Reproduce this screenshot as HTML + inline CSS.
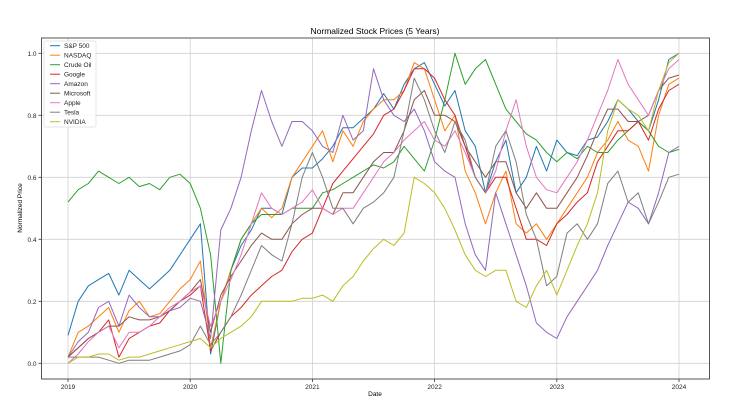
<!DOCTYPE html>
<html><head><meta charset="utf-8">
<style>
body{margin:0;background:#fff;}
svg{display:block;font-family:"Liberation Sans",sans-serif;}
</style></head>
<body>
<svg id="chart" width="743" height="409">
<text x="375" y="34" font-size="8.5" text-anchor="middle" fill="#000">Normalized Stock Prices (5 Years)</text>
<text x="375" y="396" font-size="6.5" text-anchor="middle">Date</text>
<text x="22" y="208" font-size="6.5" text-anchor="middle" transform="rotate(-90 22 208)">Normalized Price</text>
<g id="grid"></g><g id="series"></g><g id="axes"></g><g id="legend"></g>
</svg>
<script>
const seriesNames=["S&P 500","NASDAQ","Crude Oil","Google","Amazon","Microsoft","Apple","Tesla","NVIDIA"];
const colors=["#1f77b4","#ff7f0e","#2ca02c","#d62728","#9467bd","#8c564b","#e377c2","#7f7f7f","#bcbd22"];
const yTicks=[0.0,0.2,0.4,0.6,0.8,1.0];
const xTicks=[2019,2020,2021,2022,2023,2024];
const startYear=2019;
const spx=[0.09,0.2,0.25,0.27,0.29,0.22,0.3,0.27,0.24,0.27,0.3,0.35,0.4,0.45,0.03,0.2,0.3,0.38,0.43,0.5,0.5,0.48,0.6,0.63,0.63,0.66,0.7,0.76,0.76,0.79,0.82,0.87,0.82,0.9,0.95,0.97,0.9,0.83,0.88,0.75,0.7,0.55,0.65,0.72,0.55,0.6,0.7,0.62,0.72,0.68,0.67,0.72,0.73,0.78,0.85,0.82,0.78,0.75,0.85,0.98,1.0];
const ndx=[0.02,0.1,0.12,0.15,0.18,0.1,0.17,0.2,0.15,0.16,0.2,0.24,0.27,0.33,0.05,0.2,0.3,0.4,0.45,0.5,0.47,0.5,0.6,0.65,0.7,0.75,0.65,0.75,0.7,0.78,0.82,0.85,0.85,0.88,0.97,0.95,0.85,0.75,0.8,0.62,0.55,0.45,0.55,0.62,0.45,0.42,0.45,0.4,0.45,0.5,0.55,0.6,0.68,0.72,0.78,0.72,0.7,0.62,0.8,0.9,0.92];
const oil=[0.52,0.56,0.58,0.62,0.6,0.58,0.6,0.57,0.58,0.56,0.6,0.61,0.58,0.5,0.35,0.0,0.3,0.4,0.45,0.48,0.48,0.48,0.5,0.5,0.5,0.55,0.56,0.58,0.6,0.62,0.64,0.63,0.65,0.7,0.66,0.62,0.72,0.85,1.0,0.9,0.95,0.98,0.9,0.82,0.78,0.74,0.72,0.68,0.65,0.68,0.66,0.7,0.68,0.68,0.72,0.75,0.78,0.75,0.7,0.68,0.69];
const goog=[0.02,0.05,0.08,0.1,0.14,0.02,0.08,0.1,0.12,0.13,0.17,0.2,0.22,0.25,0.04,0.1,0.15,0.18,0.22,0.25,0.28,0.3,0.36,0.4,0.42,0.5,0.58,0.62,0.66,0.7,0.74,0.8,0.82,0.88,0.95,0.95,0.92,0.85,0.8,0.7,0.6,0.55,0.6,0.6,0.5,0.4,0.4,0.38,0.45,0.48,0.52,0.55,0.65,0.7,0.75,0.75,0.78,0.72,0.82,0.88,0.9];
const amzn=[0.02,0.07,0.1,0.18,0.2,0.12,0.22,0.18,0.15,0.15,0.17,0.18,0.21,0.2,0.08,0.43,0.5,0.6,0.75,0.88,0.78,0.7,0.78,0.78,0.75,0.7,0.68,0.8,0.72,0.75,0.95,0.85,0.8,0.78,0.82,0.75,0.65,0.62,0.6,0.45,0.35,0.3,0.55,0.45,0.35,0.25,0.13,0.1,0.08,0.15,0.2,0.25,0.3,0.38,0.45,0.52,0.5,0.45,0.55,0.68,0.7];
const msft=[0.02,0.05,0.08,0.1,0.12,0.12,0.15,0.14,0.14,0.15,0.17,0.2,0.23,0.27,0.1,0.22,0.28,0.33,0.38,0.42,0.4,0.4,0.45,0.48,0.5,0.5,0.48,0.55,0.55,0.6,0.65,0.68,0.68,0.75,0.85,0.88,0.8,0.8,0.78,0.7,0.65,0.6,0.65,0.65,0.55,0.5,0.55,0.5,0.5,0.55,0.6,0.67,0.75,0.82,0.82,0.78,0.78,0.8,0.88,0.92,0.93];
const aapl=[0.0,0.03,0.07,0.1,0.12,0.05,0.1,0.1,0.12,0.15,0.18,0.2,0.23,0.25,0.12,0.2,0.27,0.35,0.45,0.55,0.5,0.48,0.5,0.52,0.56,0.5,0.48,0.5,0.5,0.55,0.6,0.65,0.68,0.72,0.75,0.78,0.72,0.7,0.75,0.68,0.6,0.55,0.62,0.75,0.85,0.7,0.6,0.56,0.55,0.6,0.65,0.72,0.8,0.88,0.98,0.9,0.85,0.8,0.88,0.95,0.98];
const tsla=[0.02,0.02,0.02,0.02,0.01,0.0,0.01,0.01,0.01,0.02,0.03,0.04,0.06,0.12,0.06,0.1,0.15,0.22,0.3,0.38,0.35,0.33,0.45,0.6,0.68,0.6,0.5,0.5,0.45,0.5,0.52,0.55,0.6,0.75,0.92,0.85,0.75,0.68,0.78,0.72,0.6,0.55,0.7,0.75,0.65,0.48,0.4,0.25,0.28,0.42,0.45,0.4,0.45,0.58,0.62,0.52,0.55,0.45,0.52,0.6,0.61];
const nvda=[0.0,0.02,0.02,0.03,0.03,0.01,0.02,0.02,0.03,0.04,0.05,0.06,0.07,0.08,0.05,0.08,0.1,0.12,0.15,0.2,0.2,0.2,0.2,0.21,0.21,0.22,0.2,0.25,0.28,0.33,0.37,0.4,0.38,0.42,0.6,0.58,0.55,0.5,0.43,0.35,0.3,0.28,0.3,0.3,0.2,0.18,0.25,0.3,0.22,0.3,0.38,0.45,0.55,0.75,0.85,0.82,0.8,0.75,0.88,0.97,1.0];
const allSeries=[spx,ndx,oil,goog,amzn,msft,aapl,tsla,nvda];

const NS="http://www.w3.org/2000/svg";
const L=41.5,R=709.5,T=38,B=379;
function xScale(t){return 68+(t-2019)*122.2;}
function yScale(v){return 363.3-v*310;}
function mk(tag,attrs,parent){const e=document.createElementNS(NS,tag);for(const k in attrs)e.setAttribute(k,attrs[k]);parent.appendChild(e);return e;}
const grid=document.getElementById('grid'),axes=document.getElementById('axes'),ser=document.getElementById('series'),leg=document.getElementById('legend');
yTicks.forEach(v=>{
  const y=yScale(v);
  const g=mk('line',{x1:L,x2:R,y1:y,y2:y,stroke:'#d0d0d0','stroke-width':0.8},grid);
  
  
  mk('line',{x1:L-3,x2:L,y1:y,y2:y,stroke:'#333','stroke-width':0.8},axes);
  const t=mk('text',{x:L-5,y:y+2.5,'font-size':6.5,'text-anchor':'end',fill:'#222'},axes);
  t.textContent=v.toFixed(1);
  
  
});
xTicks.forEach(yr=>{
  const x=xScale(yr);
  const g=mk('line',{x1:x,x2:x,y1:T,y2:B,stroke:'#d0d0d0','stroke-width':0.8},grid);
  
  
  mk('line',{x1:x,x2:x,y1:B,y2:B+3,stroke:'#333','stroke-width':0.8},axes);
  const t=mk('text',{x:x,y:B+10,'font-size':6.5,'text-anchor':'middle',fill:'#222'},axes);
  t.textContent=String(yr);
  
  
});
const frame=mk('rect',{x:L,y:T,width:R-L,height:B-T,fill:'none',stroke:'#444','stroke-width':0.9},axes);


allSeries.forEach((arr,i)=>{
  const pts=arr.map((v,j)=>xScale(startYear+j/12).toFixed(1)+','+yScale(v).toFixed(1)).join(' ');
  const p=mk('polyline',{points:pts,fill:'none',stroke:colors[i],'stroke-width':1,'stroke-linejoin':'round'},ser);
  
  
});
const box=mk('rect',{x:44,y:41,width:52,height:86,fill:'#fff','fill-opacity':0.85,stroke:'#ddd','stroke-width':0.7,rx:1.5},leg);


seriesNames.forEach((n,i)=>{
  const y=45.7+i*9.5;
  const l=mk('line',{x1:50,x2:60,y1:y,y2:y,stroke:colors[i],'stroke-width':1},leg);
  
  
  const t=mk('text',{x:64,y:y+2.3,'font-size':6.5,fill:'#222'},leg);
  t.textContent=n;
  
  
});
</script>
</body></html>
